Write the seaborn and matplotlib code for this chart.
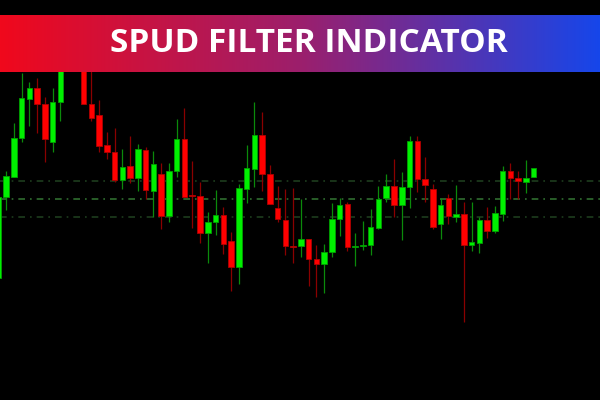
import numpy as np
import pandas as pd
import matplotlib
matplotlib.use("Agg")
import matplotlib.pyplot as plt
import seaborn as sns
from matplotlib.colors import LinearSegmentedColormap

# candle levels (screen rows, top = 0)
open_px = [278, 197, 177, 138, 99, 88, 104, 142, 102, 70,
           45, 62, 104, 115, 145, 152, 180, 166, 178, 150,
           191, 174, 216, 171, 139, 195, 196, 233, 222, 215,
           241, 267, 189, 169, 135, 174, 208, 220, 246, 246,
           239, 259, 264, 252, 219, 204, 247, 246, 245, 228,
           198, 186, 205, 187, 141, 179, 189, 224, 198, 217,
           214, 245, 243, 220, 231, 214, 171, 178, 182, 177]
close_px = [197, 176, 138, 98, 88, 104, 139, 102, 68, 45,
            62, 104, 118, 146, 152, 180, 167, 178, 149, 190,
            164, 216, 171, 139, 197, 196, 233, 222, 215, 244,
            267, 188, 168, 135, 174, 204, 219, 246, 247, 239,
            259, 264, 252, 219, 205, 247, 246, 245, 227, 199,
            186, 205, 187, 141, 179, 185, 227, 205, 216, 214,
            245, 242, 220, 231, 213, 171, 178, 181, 178, 168]
high_px = [197, 171, 123, 73, 82, 78, 97, 88, 60, 35,
           38, 50, 70, 100, 132, 128, 149, 136, 144, 147,
           151, 163, 163, 119, 108, 161, 182, 212, 190, 207,
           232, 184, 145, 102, 112, 165, 186, 189, 188, 199,
           239, 245, 244, 203, 198, 202, 233, 221, 209, 186,
           174, 159, 172, 136, 136, 157, 184, 198, 194, 185,
           202, 202, 217, 207, 206, 166, 163, 171, 160, 168]
low_px = [278, 210, 177, 142, 126, 133, 162, 152, 121, 71,
          70, 104, 121, 152, 159, 182, 189, 183, 191, 199,
          217, 229, 222, 177, 197, 228, 243, 263, 235, 254,
          291, 284, 203, 187, 191, 204, 222, 255, 263, 257,
          286, 297, 293, 257, 236, 251, 266, 250, 255, 229,
          202, 217, 240, 208, 192, 202, 229, 239, 224, 222,
          322, 251, 253, 238, 233, 221, 199, 199, 193, 177]

# filter levels (dash-dot lines)
levels_px = [181, 199, 217]
level_colors = ["#1d3d1d", "#2f6e2f", "#1d3d1d"]

title = "SPUD FILTER INDICATOR"

df = pd.DataFrame({"open": open_px, "close": close_px,
                   "high": high_px, "low": low_px})
df["bull"] = df["close"] < df["open"]

sns.set_theme(style="dark", rc={"axes.facecolor": "black",
                                "figure.facecolor": "black"})

fig = plt.figure(figsize=(6, 4), dpi=100)
ax = fig.add_axes([0, 0, 1, 1])
ax.set_facecolor("black")

# levels
for lv, col in zip(levels_px, level_colors):
    ax.axhline(lv, color=col, linewidth=1.2, linestyle=(0, (4, 3, 1, 3)), zorder=1)

# wicks
wick_col = np.where(df["bull"], "#0b8a0b", "#8a0000")
ax.vlines(df.index, df["high"], df["low"], colors=wick_col, linewidth=0.9, zorder=2)

# bodies
top = df[["open", "close"]].min(axis=1)
height = (df["open"] - df["close"]).abs().clip(lower=1.2)
body_col = np.where(df["bull"], "#00f000", "#ff0000")
edge_col = np.where(df["bull"], "#00a000", "#b00000")
ax.bar(df.index, height, bottom=top, width=0.71, color=body_col,
       edgecolor=edge_col, linewidth=0.6, zorder=3)

left = 1 - 6 / 7.76
ax.set_xlim(left, left + 600 / 7.76)
ax.set_ylim(400, 0)
ax.set_xticks([])
ax.set_yticks([])
for s in ax.spines.values():
    s.set_visible(False)

# gradient banner
bax = fig.add_axes([0, 1 - 72 / 400, 1, 57 / 400])
cmap = LinearSegmentedColormap.from_list(
    "banner", ["#f0081c", "#9c1f6c", "#1646ea"])
bax.imshow(np.linspace(0, 1, 256).reshape(1, -1), aspect="auto", cmap=cmap,
           extent=[0, 1, 0, 1])
bax.set_axis_off()
fig.text(0.515, 1 - 43.5 / 400, title, color="white", fontsize=24,
         fontweight="bold", family=["Open Sans", "DejaVu Sans"],
         ha="center", va="center")

fig.savefig("out.png", dpi=100, facecolor="black")
